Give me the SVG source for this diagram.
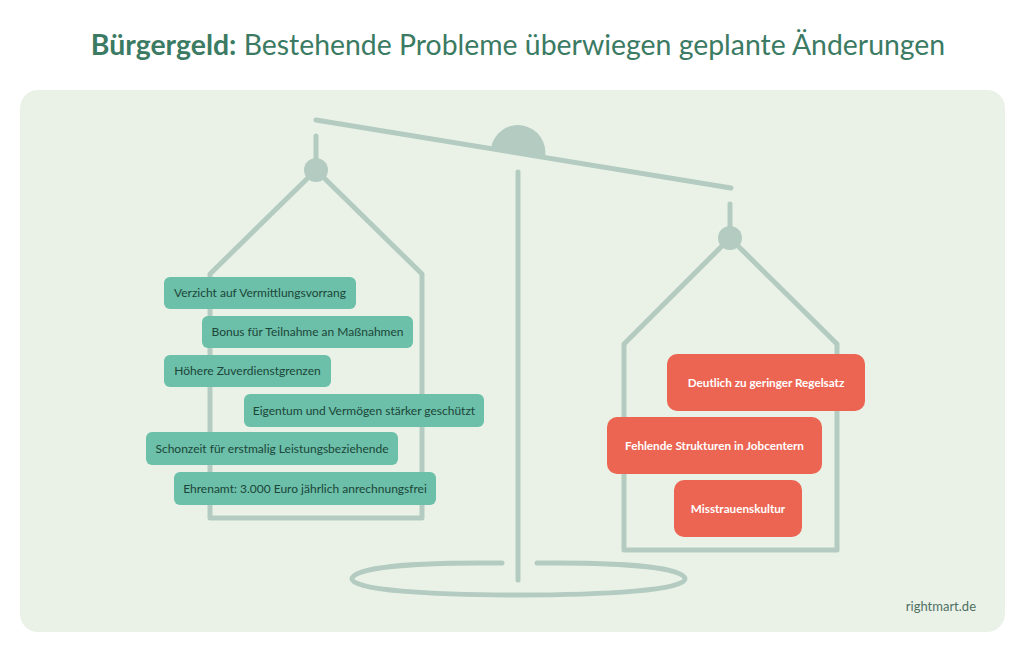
<svg xmlns="http://www.w3.org/2000/svg" width="1024" height="650" viewBox="0 0 1024 650">
<style>
.scale{fill:none;stroke:#b3cbc0;stroke-width:5;stroke-linecap:round;stroke-linejoin:round}
.knob{fill:#b3cbc0}
.g rect{fill:#6cbfa8}
.g text{font-family:Lato,"Noto Sans",sans-serif;font-size:12px;fill:#1b4639;text-anchor:middle}
.r rect{fill:#ec6553}
.r text{font-family:Lato,"Noto Sans",sans-serif;font-size:11.7px;font-weight:bold;fill:#ffffff;text-anchor:middle}
</style>
<rect width="1024" height="650" fill="#ffffff"/>
<rect x="20" y="90" width="985" height="542" rx="18" fill="#eaf2e8"/>
<text x="518" y="55" text-anchor="middle" font-family="Lato,'Noto Sans',sans-serif" font-size="28.4" fill="#3b7a63"><tspan font-weight="bold">Bürgergeld:</tspan> Bestehende Probleme überwiegen geplante Änderungen</text>

<g id="scale">
<line class="scale" x1="316" y1="120" x2="731" y2="188"/>
<path class="knob" d="M491 148 A27 27 0 0 1 545 157 Z"/>
<line class="scale" x1="518" y1="172" x2="518" y2="580"/>
<path class="scale" d="M502 563 L480 563 C410 563 352 568 352 579 C352 590 430 595 518 595 C606 595 685 590 685 579 C685 568 626 563 556 563 L537 563"/>
<line class="scale" x1="316" y1="136" x2="316" y2="170"/>
<circle class="knob" cx="316" cy="170" r="12"/>
<path class="scale" d="M316 170 L210 274 L210 518 L422 518 L422 274 Z"/>
<line class="scale" x1="730" y1="204" x2="730" y2="238"/>
<circle class="knob" cx="730" cy="238" r="12"/>
<path class="scale" d="M730 238 L624 344 L624 550 L837 550 L837 344 Z"/>
</g>

<g class="g" id="n1"><rect x="164" y="277" width="192" height="32" rx="6"/><text x="260" y="297">Verzicht auf Vermittlungsvorrang</text></g>
<g class="g" id="n2"><rect x="202" y="316" width="211" height="32" rx="6"/><text x="307.5" y="336">Bonus für Teilnahme an Maßnahmen</text></g>
<g class="g" id="n3"><rect x="164" y="355" width="167" height="32" rx="6"/><text x="247.5" y="375">Höhere Zuverdienstgrenzen</text></g>
<g class="g" id="n4"><rect x="244" y="394" width="240" height="33" rx="6"/><text x="364" y="414.5">Eigentum und Vermögen stärker geschützt</text></g>
<g class="g" id="n5"><rect x="146" y="432" width="252" height="33" rx="6"/><text x="272" y="452.5">Schonzeit für erstmalig Leistungsbeziehende</text></g>
<g class="g" id="n6"><rect x="174" y="472" width="262" height="33" rx="6"/><text x="305" y="492.5">Ehrenamt: 3.000 Euro jährlich anrechnungsfrei</text></g>

<g class="r" id="p1"><rect x="667" y="354" width="198" height="57" rx="10"/><text x="766" y="386.5">Deutlich zu geringer Regelsatz</text></g>
<g class="r" id="p2"><rect x="607" y="417" width="215" height="57" rx="10"/><text x="714.5" y="449.5">Fehlende Strukturen in Jobcentern</text></g>
<g class="r" id="p3"><rect x="674" y="480" width="128" height="57" rx="10"/><text x="738" y="512.5">Misstrauenskultur</text></g>

<text x="976" y="611" text-anchor="end" font-family="Lato,'Noto Sans',sans-serif" font-size="13" fill="#4f6f64">rightmart.de</text>
</svg>
